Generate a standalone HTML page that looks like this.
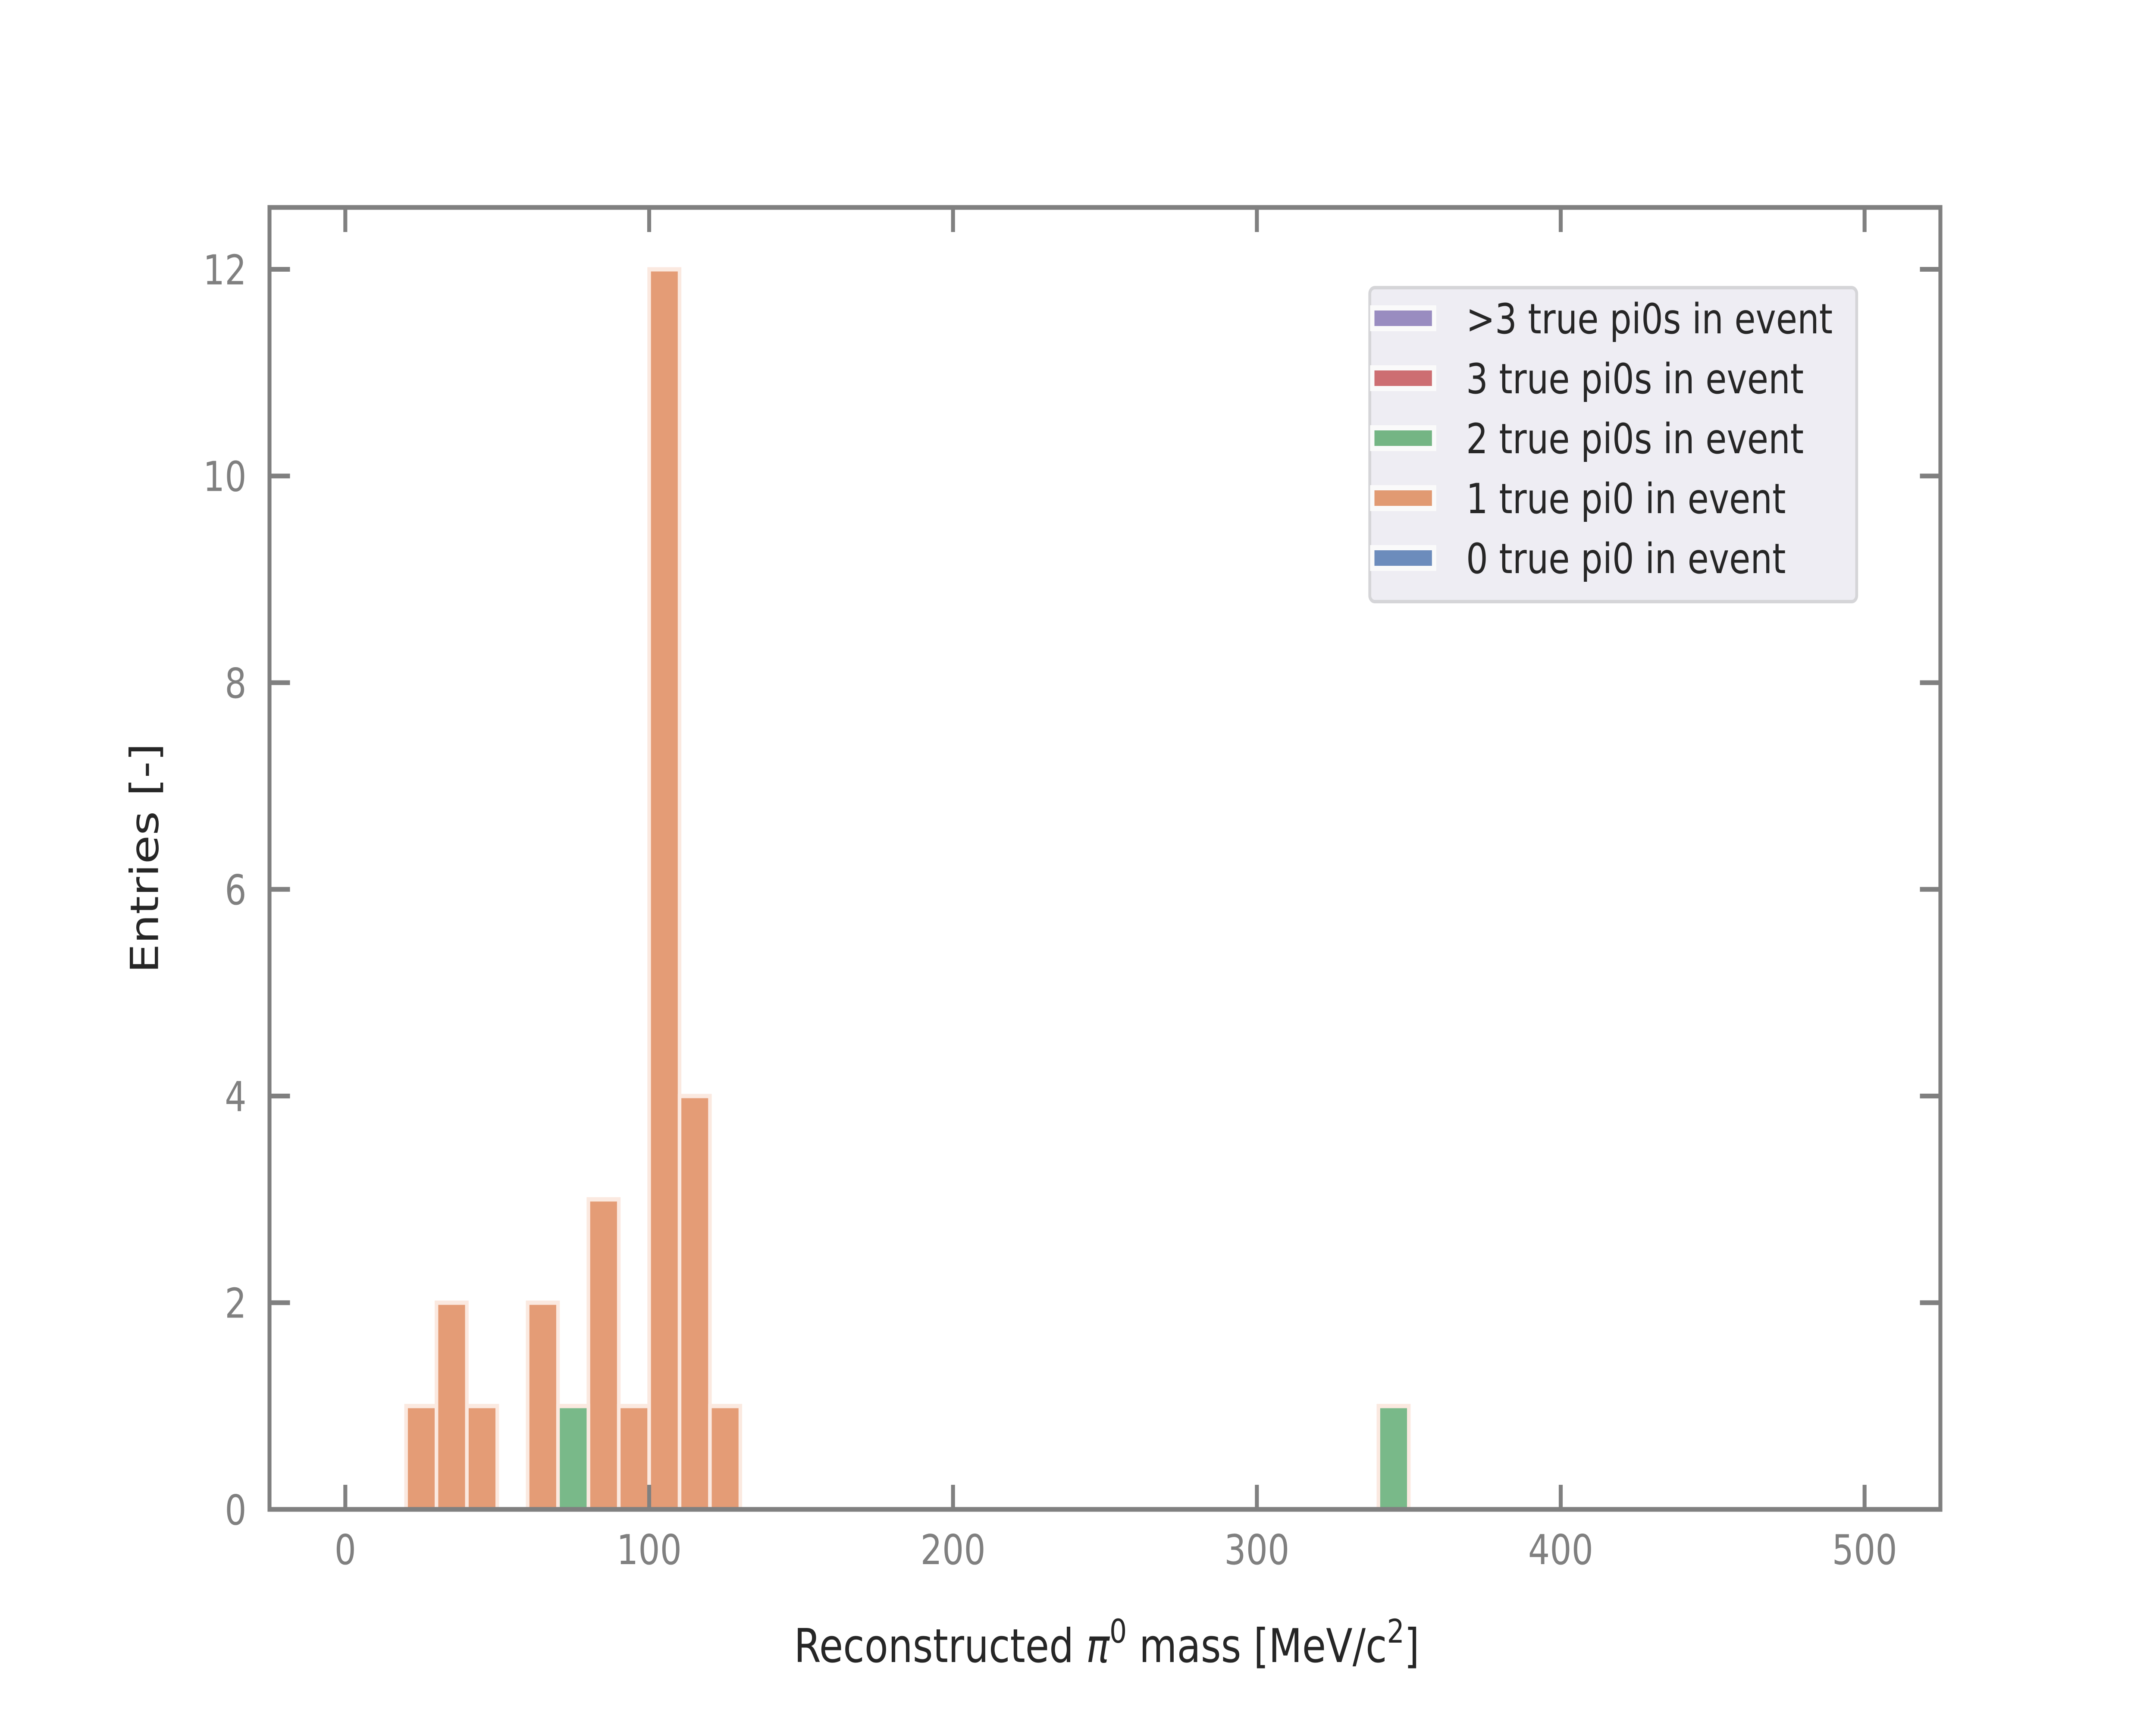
<!DOCTYPE html>
<html><head><meta charset="utf-8"><style>
html,body{margin:0;padding:0;background:#fff;width:100%;height:100%;overflow:hidden;}
svg{display:block;width:100vw;height:100vh;font-family:"DejaVu Sans","Liberation Sans",sans-serif;}
</style></head><body>
<svg id="chart" viewBox="0 0 6000 4000" preserveAspectRatio="none">
<rect x="0" y="0" width="6000" height="4000" fill="#fff"/>
<g id="bars"></g>
<g id="ticks"></g>
<rect x="750" y="481" width="4650" height="3019" fill="none" stroke="#808080" stroke-width="11"/>
<text x="3080" y="3854" font-size="108" fill="#262626" text-anchor="middle">Reconstructed <tspan font-style="italic">π</tspan><tspan dy="-45" font-size="76">0</tspan><tspan dy="45"> mass [MeV/c</tspan><tspan dy="-45" font-size="76">2</tspan><tspan dy="45">]</tspan></text>
<text x="0" y="0" transform="translate(440,1990) rotate(-90)" font-size="108" fill="#262626" text-anchor="middle">Entries [-]</text>
<g>
<rect x="3812" y="667" width="1355" height="728" rx="14" fill="#eeedf3" stroke="#d5d5d8" stroke-width="8"/>
<g id="legend-items"></g>
</g>
</svg>
<script>
const binWidth = 10;
const oneBins = [20, 30, 40, 60, 80, 90, 100, 110, 120];
const oneCounts = [1, 2, 1, 2, 3, 1, 12, 4, 1];
const twoBins = [70, 340];
const twoCounts = [1, 1];
const xTicks = [0, 100, 200, 300, 400, 500];
const yTicks = [0, 2, 4, 6, 8, 10, 12];
const legendLabels = [">3 true pi0s in event", "3 true pi0s in event", "2 true pi0s in event", "1 true pi0 in event", "0 true pi0 in event"];
const legendColors = ["#998cc0", "#cd6e72", "#74b584", "#e19a72", "#6c8cbc"];

const NS = "http://www.w3.org/2000/svg";
function xs(v){ return 961 + v * (5189 - 961) / 500; }
function ys(v){ return 3500 - v * (3500 - 624.5) / 12; }

const barsG = document.getElementById("bars");
function drawBars(bins, counts, color, name){
  bins.forEach((b, i) => {
    const r = document.createElementNS(NS, "rect");
    const x0 = xs(b), x1 = xs(b + binWidth);
    r.setAttribute("x", x0);
    r.setAttribute("width", x1 - x0);
    r.setAttribute("y", ys(counts[i]));
    r.setAttribute("height", ys(0) - ys(counts[i]));
    r.setAttribute("fill", color);
    r.setAttribute("stroke", "#fbe9e0");
    r.setAttribute("stroke-width", "10");
    
    
    barsG.appendChild(r);
  });
}
drawBars(oneBins, oneCounts, "#e49c76", "one-pi0");
drawBars(twoBins, twoCounts, "#79b989", "two-pi0");

const tg = document.getElementById("ticks");
xTicks.forEach(t => {
  const x = xs(t);
  [[3500, 3443], [481, 538]].forEach(([a, b]) => {
    const l = document.createElementNS(NS, "line");
    l.setAttribute("x1", x); l.setAttribute("x2", x);
    l.setAttribute("y1", a); l.setAttribute("y2", b);
    l.setAttribute("stroke", "#808080"); l.setAttribute("stroke-width", "11");
    
    
    tg.appendChild(l);
  });
  const tx = document.createElementNS(NS, "text");
  tx.setAttribute("x", x); tx.setAttribute("y", 3627);
  tx.setAttribute("font-size", "95"); tx.setAttribute("fill", "#808080");
  tx.setAttribute("text-anchor", "middle");
  tx.textContent = t;
  
  
  tg.appendChild(tx);
});
yTicks.forEach(t => {
  const y = ys(t);
  [[750, 807], [5400, 5343]].forEach(([a, b]) => {
    const l = document.createElementNS(NS, "line");
    l.setAttribute("x1", a); l.setAttribute("x2", b);
    l.setAttribute("y1", y); l.setAttribute("y2", y);
    l.setAttribute("stroke", "#808080"); l.setAttribute("stroke-width", "11");
    
    
    tg.appendChild(l);
  });
  const tx = document.createElementNS(NS, "text");
  tx.setAttribute("x", 686); tx.setAttribute("y", y + 35);
  tx.setAttribute("font-size", "95"); tx.setAttribute("fill", "#808080");
  tx.setAttribute("text-anchor", "end");
  tx.textContent = t;
  
  
  tg.appendChild(tx);
});

const lg = document.getElementById("legend-items");
legendLabels.forEach((lab, i) => {
  const y = 714 + i * 139;
  const r = document.createElementNS(NS, "rect");
  r.setAttribute("x", 3819); r.setAttribute("y", y);
  r.setAttribute("width", 172); r.setAttribute("height", 48);
  r.setAttribute("fill", legendColors[i]);
  r.setAttribute("stroke", "#fafafa"); r.setAttribute("stroke-width", "12");
  
  
  lg.appendChild(r);
  const t = document.createElementNS(NS, "text");
  t.setAttribute("x", 4080); t.setAttribute("y", y + 59);
  t.setAttribute("font-size", "96"); t.setAttribute("fill", "#262626");
  t.textContent = lab;
  
  
  lg.appendChild(t);
});
</script>
</body></html>
